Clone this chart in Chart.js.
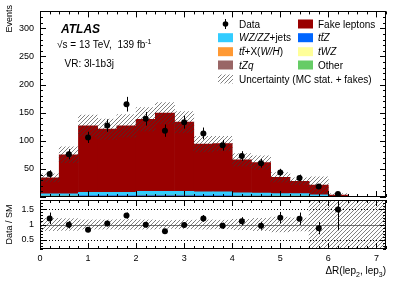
<!DOCTYPE html>
<html>
<head>
<meta charset="utf-8">
<script src="https://cdn.jsdelivr.net/npm/chart.js@4"></script>
<style>
  html, body { margin: 0; padding: 0; background: #fff; }
  #wrap { position: relative; width: 407px; height: 284px; }
  #wrap canvas { position: absolute; left: 0; top: 0; }
</style>
</head>
<body>
<div id="wrap">
  <canvas id="main" width="407" height="284"></canvas>
  <canvas id="ratio" width="407" height="284"></canvas>
</div>
<script>
// bins of 0.4 in dR(lep2, lep3), 0 - 7.2
const binCenters = [0.2, 0.6, 1.0, 1.4, 1.8, 2.2, 2.6, 3.0, 3.4, 3.8, 4.2, 4.6, 5.0, 5.4, 5.8, 6.2, 6.6, 7.0];

// stacked backgrounds (bottom -> top)
const tzq   = [0.5, 0.5, 0.8, 0.8, 0.8, 0.9, 0.9, 0.9, 0.8, 0.8, 0.7, 0.6, 0.5, 0.5, 0.3, 0.1, 0.02, 0.01];
const ttx   = [0.4, 0.4, 0.6, 0.6, 0.6, 0.7, 0.7, 0.7, 0.6, 0.6, 0.5, 0.5, 0.4, 0.4, 0.3, 0.1, 0.02, 0.01];
const ttz   = [0.6, 0.6, 1.0, 1.0, 1.0, 1.2, 1.2, 1.2, 1.0, 1.0, 0.8, 0.8, 0.7, 0.6, 0.4, 0.1, 0.03, 0.01];
const twz   = [0.2, 0.2, 0.3, 0.3, 0.3, 0.3, 0.3, 0.3, 0.3, 0.3, 0.2, 0.2, 0.2, 0.2, 0.1, 0.03, 0.01, 0];
const other = [0.3, 0.3, 0.4, 0.4, 0.4, 0.5, 0.5, 0.5, 0.4, 0.4, 0.3, 0.3, 0.3, 0.3, 0.2, 0.05, 0.01, 0];
const wzzz  = [3.5, 3.5, 5.0, 5.0, 5.0, 6.4, 6.4, 6.4, 5.9, 5.9, 5.0, 4.6, 3.9, 4.0, 2.7, 0.6, 0.2, 0.07];
const fakes = [28.5, 69.5, 118.5, 112.5, 118.5, 128, 139, 123, 85, 86, 58.5, 54, 29, 22, 17, 2.5, 0.2, 0];
const mcUnc = [7, 14, 19, 18, 20, 21, 19, 19, 14, 13, 11, 12, 8.5, 6, 15, 2.7, 0.6, 0.2];

// data
const dataX    = [0.2, 0.6, 1.0, 1.4, 1.8, 2.2, 2.6, 3.0, 3.4, 3.8, 4.2, 4.6, 5.0, 5.4, 5.8, 6.2];
const dataVals = [41, 76, 106, 127, 165, 139, 118, 133, 113, 92, 73, 60, 43.5, 34, 18.5, 5.5];
const dataErr  = [6.5, 9, 10, 11, 13, 12, 11, 11.5, 10.5, 9.5, 8.5, 7.7, 6.6, 5.8, 4.3, 2.4];

// ratio panel
const ratioVals = [1.20, 0.99, 0.83, 1.03, 1.29, 0.99, 0.78, 0.98, 1.20, 0.96, 1.11, 0.96, 1.22, 1.19, 0.88, 1.49];
const ratioErr  = [0.19, 0.12, 0.08, 0.09, 0.10, 0.09, 0.07, 0.09, 0.11, 0.10, 0.13, 0.13, 0.19, 0.20, 0.20, 0.68];
const ratioUnc  = [0.20, 0.19, 0.15, 0.15, 0.16, 0.15, 0.13, 0.14, 0.15, 0.14, 0.17, 0.20, 0.24, 0.21, 0.8, 0.8, 0.8, 0.8];

const mainTicks  = [50, 100, 150, 200, 250, 300];
const ratioTicks = [0.5, 1, 1.5];
const xTicks     = [0, 1, 2, 3, 4, 5, 6, 7];

const FONT = '"Liberation Sans", Arial, Helvetica, sans-serif';

function makeHatch() {
    const c = document.createElement('canvas');
    c.width = 4; c.height = 4;
    const g = c.getContext('2d');
    g.strokeStyle = 'rgba(55,55,55,0.7)';
    g.lineWidth = 0.9;
    g.beginPath();
    g.moveTo(0, 4); g.lineTo(4, 0);
    g.moveTo(-1, 1); g.lineTo(1, -1);
    g.moveTo(3, 5); g.lineTo(5, 3);
    g.stroke();
    return g.createPattern(c, 'repeat');
}
const hatch = makeHatch();

function richWidth(ctx, parts, size) {
    let w = 0;
    for (const p of parts) {
        const s = (p.sub || p.sup) ? size * 0.7 : size;
        ctx.font = (p.b ? 'bold ' : '') + (p.i ? 'italic ' : '') + s + 'px ' + FONT;
        w += ctx.measureText(p.t).width;
    }
    return w;
}

function drawRich(ctx, x, y, parts, size) {
    for (const p of parts) {
        const s = (p.sub || p.sup) ? size * 0.7 : size;
        ctx.font = (p.b ? 'bold ' : '') + (p.i ? 'italic ' : '') + s + 'px ' + FONT;
        const dy = p.sub ? size * 0.3 : (p.sup ? -size * 0.45 : 0);
        ctx.fillText(p.t, x, y + dy);
        const w = ctx.measureText(p.t).width;
        if (p.bar) ctx.fillRect(x + 1, y - size * 0.85, w, 0.8);
        x += w;
    }
    return x;
}

// frame with inward ticks on all four sides
const framePlugin = {
    id: 'frame',
    afterDatasetsDraw(chart, args, o) {
        const {ctx, chartArea: a, scales} = chart;
        const x = scales.x, y = scales.y;
        ctx.save();
        ctx.strokeStyle = '#000';
        ctx.lineWidth = 1;
        ctx.beginPath();
        for (let i = 0; i <= 36; i++) {
            const px = Math.round(x.getPixelForValue(i * 0.2)) + 0.5;
            const len = i % 5 === 0 ? 6 : 3;
            ctx.moveTo(px, a.bottom); ctx.lineTo(px, a.bottom - len);
            ctx.moveTo(px, a.top); ctx.lineTo(px, a.top + len);
        }
        for (let i = 0; i <= o.yN; i++) {
            const py = Math.round(y.getPixelForValue(o.y0 + i * o.yStep)) + 0.5;
            const len = (i - o.yMajOff) % 5 === 0 ? 6 : 3;
            ctx.moveTo(a.left, py); ctx.lineTo(a.left + len, py);
            ctx.moveTo(a.right, py); ctx.lineTo(a.right - len, py);
        }
        ctx.stroke();
        ctx.strokeRect(Math.round(a.left) + 0.5, Math.round(a.top) + 0.5,
                       Math.round(a.width) - 1, Math.round(a.height) - 1);
        ctx.restore();
    }
};

function drawErrors(chart, xs, vals, errs, yId) {
    const {ctx, chartArea: a, scales} = chart;
    ctx.save();
    ctx.beginPath();
    ctx.rect(a.left, a.top, a.width, a.height);
    ctx.clip();
    ctx.strokeStyle = '#000';
    ctx.lineWidth = 1;
    ctx.beginPath();
    xs.forEach((xv, i) => {
        const px = Math.round(scales.x.getPixelForValue(xv)) + 0.5;
        ctx.moveTo(px, scales[yId].getPixelForValue(vals[i] - errs[i]));
        ctx.lineTo(px, scales[yId].getPixelForValue(vals[i] + errs[i]));
    });
    ctx.stroke();
    ctx.restore();
}

const legendRows = [
    [{marker: true, parts: [{t: 'Data'}]},
     {color: '#990000', parts: [{t: 'Fake leptons'}]}],
    [{color: '#33ccff', parts: [{t: 'WZ/ZZ', i: 1}, {t: '+jets'}]},
     {color: '#0066ff', parts: [{t: 't', i: 1}, {t: 't', i: 1, bar: 1}, {t: 'Z', i: 1}]}],
    [{color: '#ff9933', parts: [{t: 't', i: 1}, {t: 't', i: 1, bar: 1}, {t: '+X('}, {t: 'W/H', i: 1}, {t: ')'}]},
     {color: '#ffff99', parts: [{t: 'tWZ', i: 1}]}],
    [{color: '#996666', parts: [{t: 'tZq', i: 1}]},
     {color: '#66cc66', parts: [{t: 'Other'}]}],
    [{hatch: true, parts: [{t: 'Uncertainty (MC stat. + fakes)'}]}]
];
const legendY = [24, 37.7, 51.7, 65, 79];

const mainDeco = {
    id: 'mainDeco',
    afterDatasetsDraw(chart) {
        drawErrors(chart, dataX, dataVals, dataErr, 'yu');
    },
    afterDraw(chart) {
        const ctx = chart.ctx;
        ctx.save();
        ctx.fillStyle = '#000';
        ctx.textBaseline = 'alphabetic';
        ctx.textAlign = 'left';
        drawRich(ctx, 61, 32.5, [{t: 'ATLAS', b: 1, i: 1}], 12);
        drawRich(ctx, 57, 48, [{t: '\u221As = 13 TeV,  139 fb'}, {t: '-1', sup: 1}], 10);
        drawRich(ctx, 64.5, 66.5, [{t: 'VR: 3l-1b3j'}], 10);

        // legend
        const cols = [{box: 218, text: 239}, {box: 298, text: 318}];
        legendRows.forEach((row, r) => {
            const cy = legendY[r];
            row.forEach((e, c) => {
                const col = cols[c];
                if (e.marker) {
                    ctx.beginPath();
                    ctx.moveTo(225.5, cy - 5); ctx.lineTo(225.5, cy + 5);
                    ctx.lineWidth = 1; ctx.strokeStyle = '#000'; ctx.stroke();
                    ctx.beginPath(); ctx.arc(225.5, cy, 2.8, 0, Math.PI * 2); ctx.fill();
                } else if (e.hatch) {
                    ctx.fillStyle = hatch;
                    ctx.fillRect(col.box, cy - 4.5, 15, 9);
                } else {
                    ctx.fillStyle = e.color;
                    ctx.fillRect(col.box, cy - 4.5, 15, 9);
                }
                ctx.fillStyle = '#000';
                drawRich(ctx, col.text, cy + 3.6, e.parts, 10);
            });
        });

        // y title
        ctx.save();
        ctx.translate(12, 5);
        ctx.rotate(-Math.PI / 2);
        ctx.textAlign = 'right';
        ctx.font = '9px ' + FONT;
        ctx.fillText('Events', 0, 0);
        ctx.restore();
        ctx.restore();
    }
};

const ratioDeco = {
    id: 'ratioDeco',
    beforeDatasetsDraw(chart) {
        const {ctx, chartArea: a, scales} = chart;
        ctx.save();
        ctx.lineWidth = 1;
        ctx.strokeStyle = '#000';
        ctx.setLineDash([1, 2]);
        [0.5, 1.5].forEach(v => {
            const py = Math.round(scales.y.getPixelForValue(v)) + 0.5;
            ctx.beginPath(); ctx.moveTo(a.left, py); ctx.lineTo(a.right, py); ctx.stroke();
        });
        ctx.setLineDash([]);
        ctx.strokeStyle = '#777';
        const p1 = Math.round(scales.y.getPixelForValue(1)) + 0.5;
        ctx.beginPath(); ctx.moveTo(a.left, p1); ctx.lineTo(a.right, p1); ctx.stroke();
        ctx.restore();
    },
    afterDatasetsDraw(chart) {
        drawErrors(chart, dataX, ratioVals, ratioErr, 'y');
    },
    afterDraw(chart) {
        const ctx = chart.ctx;
        ctx.save();
        ctx.fillStyle = '#000';
        const parts = [{t: '\u0394R(lep'}, {t: '2', sub: 1}, {t: ', lep'}, {t: '3', sub: 1}, {t: ')'}];
        const w = richWidth(ctx, parts, 10);
        drawRich(ctx, chart.chartArea.right - w, 274, parts, 10);

        ctx.translate(12, 224.5);
        ctx.rotate(-Math.PI / 2);
        ctx.textAlign = 'center';
        ctx.font = '9px ' + FONT;
        ctx.fillText('Data / SM', 0, 0);
        ctx.restore();
    }
};

const bkg = [
    {label: 'tZq', vals: tzq, color: '#996666'},
    {label: 'ttX', vals: ttx, color: '#ff9933'},
    {label: 'ttZ', vals: ttz, color: '#0066ff'},
    {label: 'tWZ', vals: twz, color: '#ffff99'},
    {label: 'Other', vals: other, color: '#66cc66'},
    {label: 'WZ/ZZ+jets', vals: wzzz, color: '#33ccff'},
    {label: 'Fake leptons', vals: fakes, color: '#990000'}
];
const mcTotal = binCenters.map((x, i) => bkg.reduce((s, b) => s + b.vals[i], 0));

const tickFont = {family: FONT, size: 9};

new Chart(document.getElementById('main'), {
    type: 'bar',
    data: {
        datasets: [
            ...bkg.map(b => ({
                label: b.label,
                data: binCenters.map((x, i) => ({x: x, y: b.vals[i]})),
                backgroundColor: b.color,
                borderWidth: 0
            })),
            {
                label: 'Uncertainty',
                yAxisID: 'yu',
                data: binCenters.map((x, i) => ({x: x, y: [mcTotal[i] - mcUnc[i], mcTotal[i] + mcUnc[i]]})),
                backgroundColor: hatch,
                borderWidth: 0,
                order: -1
            },
            {
                type: 'line',
                label: 'Data',
                yAxisID: 'yu',
                data: dataX.map((x, i) => ({x: x, y: dataVals[i]})),
                showLine: false,
                pointRadius: 3,
                pointBackgroundColor: '#000',
                pointBorderWidth: 0,
                order: -2
            }
        ]
    },
    options: {
        responsive: false,
        animation: false,
        events: [],
        layout: {padding: {left: 0, right: 21, top: 10, bottom: 87}},
        datasets: {bar: {grouped: false, barPercentage: 1, categoryPercentage: 1}},
        plugins: {
            legend: {display: false},
            tooltip: {enabled: false},
            frame: {y0: 0, yStep: 10, yN: 33, yMajOff: 0}
        },
        scales: {
            x: {type: 'linear', min: 0, max: 7.2, offset: false, display: false},
            y: {
                stacked: true, min: 0, max: 330,
                afterFit: s => { s.width = 40; },
                afterBuildTicks: s => { s.ticks = mainTicks.map(v => ({value: v})); },
                ticks: {font: tickFont, color: '#000', padding: 6, callback: v => String(v)},
                grid: {display: false, drawTicks: false},
                border: {display: false}
            },
            yu: {min: 0, max: 330, display: false}
        }
    },
    plugins: [framePlugin, mainDeco]
});

new Chart(document.getElementById('ratio'), {
    type: 'bar',
    data: {
        datasets: [
            {
                label: 'Uncertainty',
                data: binCenters.map((x, i) => ({x: x, y: [1 - ratioUnc[i], 1 + ratioUnc[i]]})),
                backgroundColor: hatch,
                borderWidth: 0
            },
            {
                type: 'line',
                label: 'Data / SM',
                data: dataX.map((x, i) => ({x: x, y: ratioVals[i]})),
                showLine: false,
                pointRadius: 3,
                pointBackgroundColor: '#000',
                pointBorderWidth: 0,
                order: -1
            }
        ]
    },
    options: {
        responsive: false,
        animation: false,
        events: [],
        layout: {padding: {left: 0, right: 21, top: 200, bottom: 0}},
        datasets: {bar: {grouped: false, barPercentage: 1, categoryPercentage: 1}},
        plugins: {
            legend: {display: false},
            tooltip: {enabled: false},
            frame: {y0: 0.2, yStep: 0.1, yN: 16, yMajOff: 3}
        },
        scales: {
            x: {
                type: 'linear', min: 0, max: 7.2, offset: false,
                afterFit: s => { s.height = 35; },
                afterBuildTicks: s => { s.ticks = xTicks.map(v => ({value: v})); },
                ticks: {font: tickFont, color: '#000', padding: 4, maxRotation: 0, autoSkip: false, callback: v => String(v)},
                grid: {display: false, drawTicks: false},
                border: {display: false}
            },
            y: {
                min: 0.2, max: 1.8,
                afterFit: s => { s.width = 40; },
                afterBuildTicks: s => { s.ticks = ratioTicks.map(v => ({value: v})); },
                ticks: {font: tickFont, color: '#000', padding: 6, callback: v => String(v)},
                grid: {display: false, drawTicks: false},
                border: {display: false}
            }
        }
    },
    plugins: [framePlugin, ratioDeco]
});
</script>
</body>
</html>
